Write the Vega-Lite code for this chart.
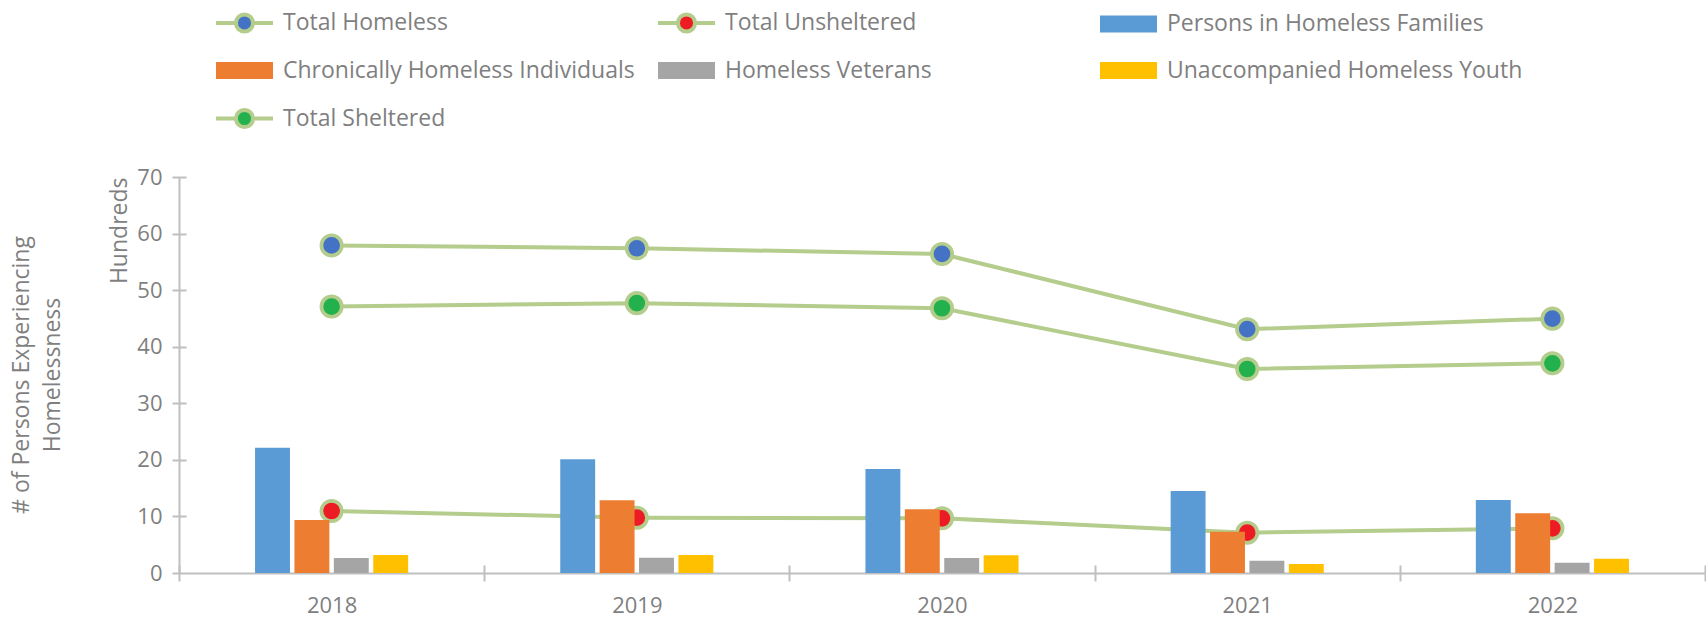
{
  "$schema": "https://vega.github.io/schema/vega-lite/v6.json",
  "width": 1526,
  "height": 396,
  "autosize": {"type": "none"},
  "padding": {"top": 177, "left": 179, "right": 1, "bottom": 46},
  "config": {
    "font": "Open Sans",
    "view": {"stroke": null},
    "axis": {"grid": false}
  },
  "title": {
    "text": ["# of Persons Experiencing", "Homelessness"],
    "orient": "left",
    "anchor": "middle",
    "fontSize": 23,
    "fontWeight": "normal",
    "font": "Open Sans",
    "color": "#7F7F7F",
    "lineHeight": 31,
    "offset": 44
  },
  "data": {
    "values": [
      {"year": "2018", "series": "Total Homeless", "value": 57.9},
      {"year": "2018", "series": "Total Unsheltered", "value": 10.96},
      {"year": "2018", "series": "Persons in Homeless Families", "value": 22.15},
      {"year": "2018", "series": "Chronically Homeless Individuals", "value": 9.37},
      {"year": "2018", "series": "Homeless Veterans", "value": 2.65},
      {"year": "2018", "series": "Unaccompanied Homeless Youth", "value": 3.18},
      {"year": "2018", "series": "Total Sheltered", "value": 47.1},
      {"year": "2019", "series": "Total Homeless", "value": 57.4},
      {"year": "2019", "series": "Total Unsheltered", "value": 9.78},
      {"year": "2019", "series": "Persons in Homeless Families", "value": 20.1},
      {"year": "2019", "series": "Chronically Homeless Individuals", "value": 12.85},
      {"year": "2019", "series": "Homeless Veterans", "value": 2.7},
      {"year": "2019", "series": "Unaccompanied Homeless Youth", "value": 3.18},
      {"year": "2019", "series": "Total Sheltered", "value": 47.7},
      {"year": "2020", "series": "Total Homeless", "value": 56.4},
      {"year": "2020", "series": "Total Unsheltered", "value": 9.67},
      {"year": "2020", "series": "Persons in Homeless Families", "value": 18.4},
      {"year": "2020", "series": "Chronically Homeless Individuals", "value": 11.26},
      {"year": "2020", "series": "Homeless Veterans", "value": 2.65},
      {"year": "2020", "series": "Unaccompanied Homeless Youth", "value": 3.12},
      {"year": "2020", "series": "Total Sheltered", "value": 46.8},
      {"year": "2021", "series": "Total Homeless", "value": 43.1},
      {"year": "2021", "series": "Total Unsheltered", "value": 7.13},
      {"year": "2021", "series": "Persons in Homeless Families", "value": 14.5},
      {"year": "2021", "series": "Chronically Homeless Individuals", "value": 7.3},
      {"year": "2021", "series": "Homeless Veterans", "value": 2.17},
      {"year": "2021", "series": "Unaccompanied Homeless Youth", "value": 1.6},
      {"year": "2021", "series": "Total Sheltered", "value": 36.06},
      {"year": "2022", "series": "Total Homeless", "value": 44.96},
      {"year": "2022", "series": "Total Unsheltered", "value": 7.9},
      {"year": "2022", "series": "Persons in Homeless Families", "value": 12.9},
      {"year": "2022", "series": "Chronically Homeless Individuals", "value": 10.55},
      {"year": "2022", "series": "Homeless Veterans", "value": 1.82},
      {"year": "2022", "series": "Unaccompanied Homeless Youth", "value": 2.53},
      {"year": "2022", "series": "Total Sheltered", "value": 37.07}
    ]
  },
  "layer": [
    {
      "transform": [{"filter": {"field": "series", "oneOf": ["Total Homeless", "Total Unsheltered", "Total Sheltered"]}}],
      "mark": {"type": "line", "opacity": 0, "strokeOpacity": 0},
      "encoding": {
        "detail": {"field": "series"},
        "x": {
          "field": "year",
          "type": "nominal",
          "scale": {"paddingInner": 0, "paddingOuter": 0},
          "axis": {
            "orient": "bottom",
            "title": null,
            "labels": false,
            "domain": false,
            "tickColor": "#BFBFBF",
            "tickWidth": 2,
            "tickSize": -8,
            "tickBand": "extent"
          }
        },
        "y": {
          "field": "value",
          "type": "quantitative",
          "scale": {"domain": [0, 70], "nice": false},
          "axis": {
            "orient": "left",
            "title": null,
            "labels": false,
            "domain": false,
            "values": [10, 20, 30, 40, 50, 60, 70],
            "tickColor": "#BFBFBF",
            "tickWidth": 2,
            "tickSize": -7
          }
        }
      }
    },
    {
      "encoding": {
        "x": {
          "field": "year",
          "type": "nominal",
          "scale": {"paddingInner": 0, "paddingOuter": 0},
          "axis": {
            "orient": "bottom",
            "title": null,
            "labelAngle": 0,
            "labelFontSize": 22,
            "labelColor": "#7F7F7F",
            "labelPadding": 14,
            "domainColor": "#BFBFBF",
            "domainWidth": 2,
            "tickColor": "#BFBFBF",
            "tickWidth": 2,
            "tickSize": 8,
            "tickBand": "extent"
          }
        },
        "y": {
          "field": "value",
          "type": "quantitative",
          "scale": {"domain": [0, 70], "nice": false},
          "axis": {
            "orient": "left",
            "title": "Hundreds",
            "titleFontSize": 23,
            "titleFontWeight": "normal",
            "titleColor": "#7F7F7F",
            "titleAnchor": "end",
            "titlePadding": 5,
            "values": [0, 10, 20, 30, 40, 50, 60, 70],
            "labelFontSize": 22,
            "labelColor": "#7F7F7F",
            "labelPadding": 10,
            "domainColor": "#BFBFBF",
            "domainWidth": 2,
            "tickColor": "#BFBFBF",
            "tickWidth": 2,
            "tickSize": 7
          }
        },
        "color": {
          "field": "series",
          "type": "nominal",
          "scale": {
            "domain": ["Total Homeless", "Total Unsheltered", "Persons in Homeless Families", "Chronically Homeless Individuals", "Homeless Veterans", "Unaccompanied Homeless Youth", "Total Sheltered"],
            "range": ["#4472C4", "#ED1C24", "#5B9BD5", "#ED7D31", "#A5A5A5", "#FFC000", "#22B14C"]
          },
          "legend": {
            "title": null,
            "orient": "none",
            "legendX": 35,
            "legendY": -185,
            "direction": "horizontal",
            "columns": 3,
            "gridAlign": "all",
            "columnPadding": 11,
            "rowPadding": 0,
            "symbolSize": 3249,
            "symbolStrokeWidth": 4,
            "labelFontSize": 23,
            "labelColor": "#7F7F7F",
            "labelOffset": 8,
            "labelLimit": 0,
            "padding": 0,
            "encode": {
              "symbols": {
                "update": {
                  "shape": {"signal": "indexof(['Total Homeless','Total Unsheltered','Total Sheltered'], datum.value) >= 0 ? 'M-1,0H-0.3M0.3,0H1M-0.3,0A0.3,0.3,0,1,1,0.3,0A0.3,0.3,0,1,1,-0.3,0Z' : 'M-0.93,-0.23H0.93V0.23H-0.93Z'"},
                  "stroke": {"signal": "indexof(['Total Homeless','Total Unsheltered','Total Sheltered'], datum.value) >= 0 ? '#B4CC8C' : scale('color', datum.value)"},
                  "strokeWidth": {"value": 4},
                  "size": {"value": 3249},
                  "opacity": {"value": 1}
                }
              }
            }
          }
        }
      },
      "layer": [
        {
          "transform": [{"filter": {"field": "series", "oneOf": ["Total Homeless", "Total Unsheltered", "Total Sheltered"]}}],
          "mark": {"type": "line", "stroke": "#B4CC8C", "strokeWidth": 4},
          "encoding": {"detail": {"field": "series"}, "color": null}
        },
        {
          "transform": [{"filter": {"field": "series", "oneOf": ["Total Homeless", "Total Unsheltered", "Total Sheltered"]}}],
          "mark": {"type": "point", "filled": true, "opacity": 1, "size": 415, "stroke": "#B4CC8C", "strokeWidth": 3.7, "shape": "circle"}
        },
        {
          "transform": [{"filter": {"field": "series", "oneOf": ["Persons in Homeless Families", "Chronically Homeless Individuals", "Homeless Veterans", "Unaccompanied Homeless Youth"]}}],
          "mark": {"type": "bar"},
          "encoding": {
            "xOffset": {
              "field": "series",
              "type": "nominal",
              "scale": {
                "domain": ["pad1", "Persons in Homeless Families", "Chronically Homeless Individuals", "Homeless Veterans", "Unaccompanied Homeless Youth", "pad2"],
                "paddingInner": 0.114,
                "paddingOuter": 0.93
              }
            }
          }
        }
      ]
    }
  ],
  "resolve": {"axis": {"x": "independent", "y": "independent"}}
}
